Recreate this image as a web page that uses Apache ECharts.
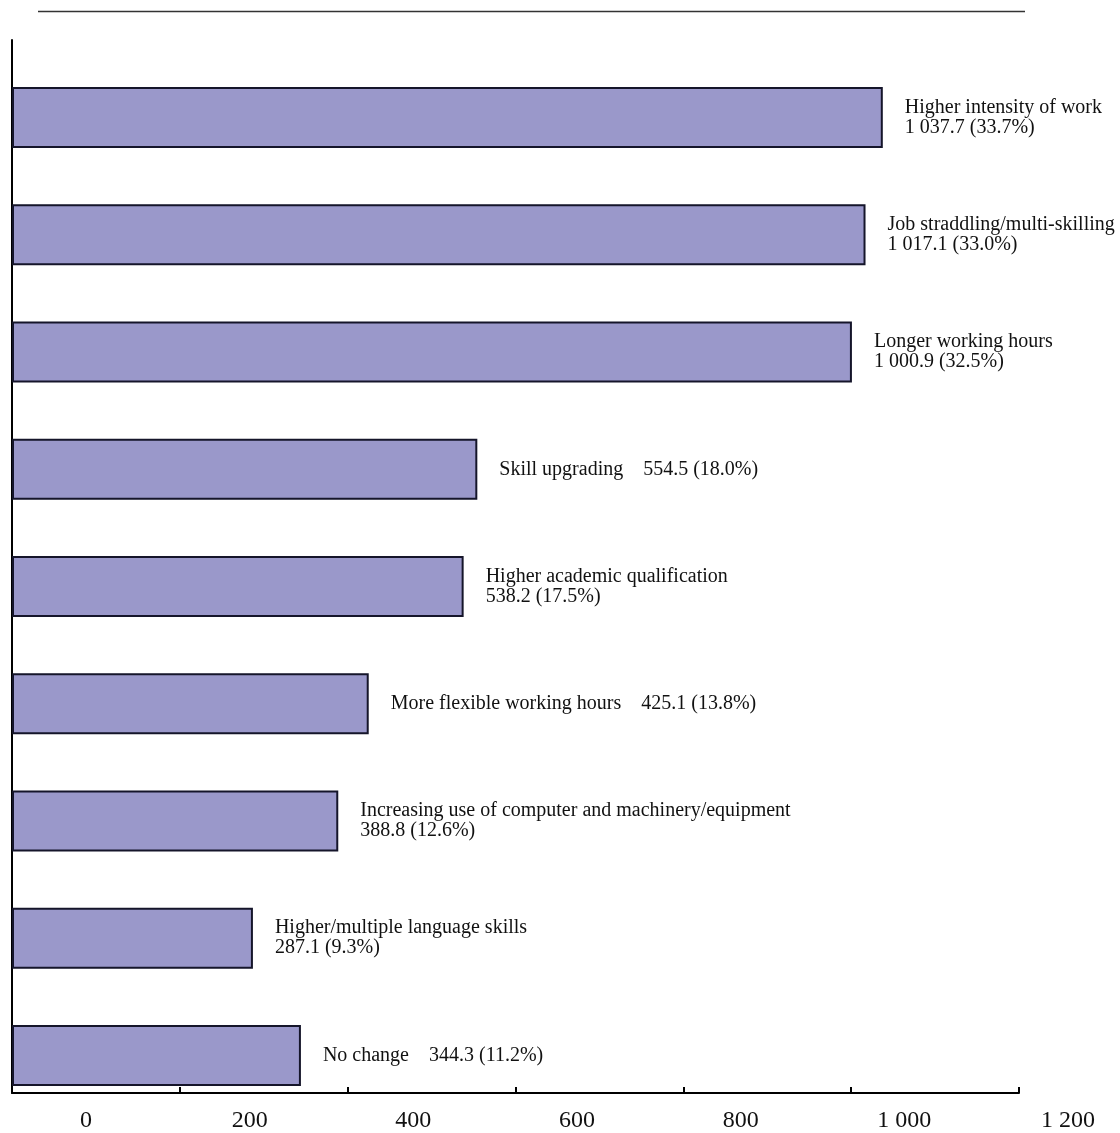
<!DOCTYPE html>
<html>
<head>
<meta charset="utf-8">
<style>
  html, body { margin: 0; padding: 0; background: #fff; }
  #main { width: 1120px; height: 1133px; }
</style>
<script src="https://cdn.jsdelivr.net/npm/echarts@6/dist/echarts.min.js"></script>
</head>
<body>
<div id="main"></div>
<script>
// categories, top to bottom
const categories = [
  'Higher intensity of work',
  'Job straddling/multi-skilling',
  'Longer working hours',
  'Skill upgrading',
  'Higher academic qualification',
  'More flexible working hours',
  'Increasing use of computer and machinery/equipment',
  'Higher/multiple language skills',
  'No change'
];
const values = [1037.7, 1017.1, 1000.9, 554.5, 538.2, 425.1, 388.8, 287.1, 344.3];
const shares = [33.7, 33.0, 32.5, 18.0, 17.5, 13.8, 12.6, 9.3, 11.2];
const xTicks = [0, 200, 400, 600, 800, 1000, 1200];

// labels written on one line instead of two
const inlineLabels = ['Skill upgrading', 'More flexible working hours', 'No change'];

const serif = "'Liberation Serif', 'Times New Roman', serif";

// 1037.7 -> "1 037.7"
function fmtNum(v, dec) {
  let s = dec ? v.toFixed(dec) : String(v);
  let parts = s.split('.');
  parts[0] = parts[0].replace(/\B(?=(\d{3})+(?!\d))/g, ' ');
  return parts.join('.');
}

const chart = echarts.init(document.getElementById('main'));
chart.setOption({
  backgroundColor: '#fff',
  animation: false,
  graphic: [{
    type: 'line',
    shape: { x1: 38, y1: 11.5, x2: 1025, y2: 11.5 },
    style: { stroke: '#333', lineWidth: 1.5 }
  }],
  grid: [
    // bars
    { left: 12, right: 101, top: 59, bottom: 19 },
    // axis lines
    { left: 12, right: 101, top: 40, bottom: 40 },
    // tick labels (printed shifted off the ticks)
    { left: 86, right: 52, top: 40, bottom: 40 }
  ],
  xAxis: [
    { gridIndex: 0, type: 'value', min: 0, max: 1200, show: false },
    {
      gridIndex: 1, type: 'value', min: 0, max: 1200, interval: 200,
      axisLine: { show: true, lineStyle: { color: '#000', width: 2 } },
      axisTick: { show: true, inside: true, length: 6, lineStyle: { color: '#000', width: 2 } },
      axisLabel: { show: false },
      splitLine: { show: false }
    },
    {
      gridIndex: 2, type: 'value', min: 0, max: 1200, interval: 200,
      axisLine: { show: false },
      axisTick: { show: false },
      splitLine: { show: false },
      axisLabel: {
        margin: 17,
        fontFamily: serif,
        fontSize: 24,
        color: '#111',
        formatter: v => xTicks.indexOf(v) >= 0 ? fmtNum(v) : ''
      }
    }
  ],
  yAxis: [
    { gridIndex: 0, type: 'category', data: categories, inverse: true, show: false },
    {
      gridIndex: 1, type: 'value', min: 0, max: 1,
      axisLine: { show: true, lineStyle: { color: '#000', width: 2 } },
      axisTick: { show: false },
      axisLabel: { show: false },
      splitLine: { show: false }
    },
    { gridIndex: 2, type: 'value', show: false }
  ],
  series: [{
    type: 'bar',
    xAxisIndex: 0,
    yAxisIndex: 0,
    data: values,
    barWidth: 61,
    itemStyle: {
      color: '#9a98ca',
      borderColor: '#15152a',
      borderWidth: 2
    },
    label: {
      show: true,
      position: 'right',
      distance: 22,
      fontFamily: serif,
      fontSize: 20,
      lineHeight: 20,
      color: '#111',
      formatter: p => {
        let name = categories[p.dataIndex];
        let sep = inlineLabels.indexOf(name) >= 0 ? '    ' : '\n';
        return name + sep + fmtNum(p.value, 1) + ' (' + shares[p.dataIndex].toFixed(1) + '%)';
      }
    }
  }]
});
window.onresize = function () { chart.resize(); };
</script>
</body>
</html>
